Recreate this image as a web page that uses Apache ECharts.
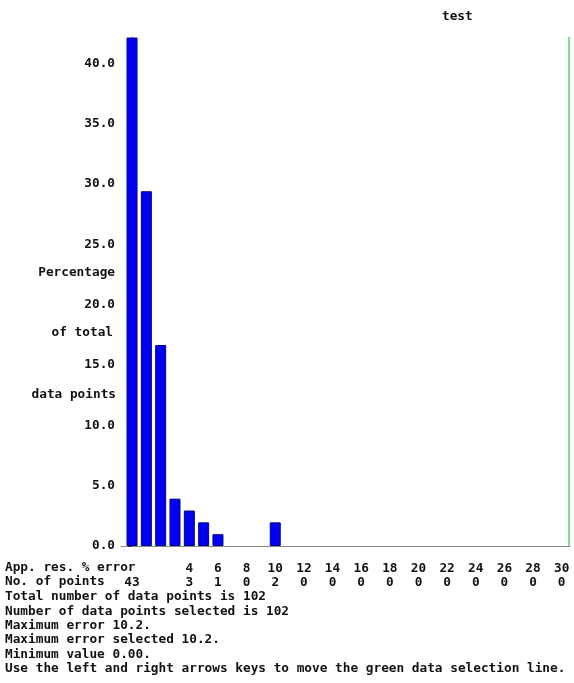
<!DOCTYPE html>
<html>
<head>
<meta charset="utf-8">
<title>test</title>
<script src="https://cdn.jsdelivr.net/npm/echarts@6/dist/echarts.min.js"></script>
<style>
  html, body { margin: 0; padding: 0; background: #fff; }
  #chart { width: 574px; height: 683px; }
</style>
</head>
<body>
<div id="chart"></div>
<script>
// Error bins (app. res. % error, width 1) and number of points in each bin
const bins = [0, 1, 2, 3, 4, 5, 6, 7, 8, 9, 10, 11, 12, 13, 14, 15, 16, 17, 18, 19, 20,
              21, 22, 23, 24, 25, 26, 27, 28, 29, 30];
const counts = [43, 30, 17, 4, 3, 2, 1, 0, 0, 0, 2, 0, 0, 0, 0, 0, 0, 0, 0, 0, 0,
                0, 0, 0, 0, 0, 0, 0, 0, 0, 0];
const totalPoints = 102;
const selectedPoints = 102;
const maxError = '10.2';
const maxErrorSelected = '10.2';
const minValue = '0.00';
const selectionLine = 30.5;

// Labelled positions along the error axis
const errorTicks = [4, 6, 8, 10, 12, 14, 16, 18, 20, 22, 24, 26, 28, 30];
const countTicks = [0, 4, 6, 8, 10, 12, 14, 16, 18, 20, 22, 24, 26, 28, 30];
const yStep = 5;

const yNameLines = ['Percentage', 'of total', 'data points'];
const infoLines = [
  'Total number of data points is ' + totalPoints,
  'Number of data points selected is ' + selectedPoints,
  'Maximum error ' + maxError + '.',
  'Maximum error selected ' + maxErrorSelected + '.',
  'Minimum value ' + minValue + '.',
  'Use the left and right arrows keys to move the green data selection line.'
];

const FONT = '"DejaVu Sans Mono", "Liberation Mono", monospace';
const FS = 12.75;
const TEXT_FONT = 'bold ' + FS + 'px ' + FONT;

const barData = bins
  .map((b, i) => [b, counts[i] / totalPoints * 100])
  .filter(d => d[1] > 0);

const chart = echarts.init(document.getElementById('chart'), null, { renderer: 'canvas' });

function textItem(str, x, y, align) {
  return {
    type: 'text', x: x, y: y,
    style: { text: str, font: TEXT_FONT, fill: '#111', textAlign: align || 'left', textVerticalAlign: 'middle' }
  };
}

const graphics = [
  textItem(yNameLines[0], 115, 273, 'right'),
  textItem(yNameLines[1], 113, 333, 'right'),
  textItem(yNameLines[2], 116, 395, 'right'),
  textItem('App. res. % error', 5, 568),
  textItem('No. of points', 5, 582)
];
infoLines.forEach((t, i) => graphics.push(textItem(t, 5, 597 + i * 14.3)));

chart.setOption({
  animation: false,
  backgroundColor: '#fff',
  title: {
    text: 'test', left: 437, top: 5,
    textStyle: { fontFamily: FONT, fontSize: FS, fontWeight: 'bold', color: '#111' }
  },
  grid: { left: 121, right: 4, top: 37, bottom: 137, containLabel: false },
  xAxis: [
    {
      type: 'value', min: -0.77, max: 30.58, position: 'bottom',
      axisLine: { show: true, lineStyle: { color: '#888', width: 1 } },
      axisTick: { show: false },
      splitLine: { show: false },
      axisLabel: {
        customValues: errorTicks, margin: 16, color: '#111',
        fontFamily: FONT, fontSize: FS, fontWeight: 'bold', hideOverlap: false
      }
    },
    {
      type: 'value', min: -0.77, max: 30.58, position: 'bottom', offset: 14,
      axisLine: { show: false }, axisTick: { show: false }, splitLine: { show: false },
      axisLabel: {
        customValues: countTicks, margin: 16, color: '#111',
        fontFamily: FONT, fontSize: FS, fontWeight: 'bold', hideOverlap: false,
        formatter: v => String(counts[bins.indexOf(Math.round(v))])
      }
    }
  ],
  yAxis: {
    type: 'value', min: 0, max: 42.2, interval: yStep,
    axisLine: { show: true, lineStyle: { color: '#888', width: 1 } },
    axisTick: { show: true, length: 4, lineStyle: { color: '#333', width: 1 } },
    splitLine: { show: false },
    axisLabel: {
      margin: 6, color: '#111', showMaxLabel: false,
      fontFamily: FONT, fontSize: FS, fontWeight: 'bold',
      formatter: v => v.toFixed(1)
    }
  },
  graphic: graphics,
  series: [
    {
      type: 'bar', xAxisIndex: 0, data: barData, barWidth: 11,
      itemStyle: { color: '#0000f2', borderColor: '#000088', borderWidth: 1 },
      markLine: {
        silent: true, symbol: ['none', 'none'], label: { show: false },
        lineStyle: { color: '#66cc66', width: 1.5, type: 'solid' },
        data: [{ xAxis: selectionLine }]
      }
    }
  ]
});
</script>
</body>
</html>
